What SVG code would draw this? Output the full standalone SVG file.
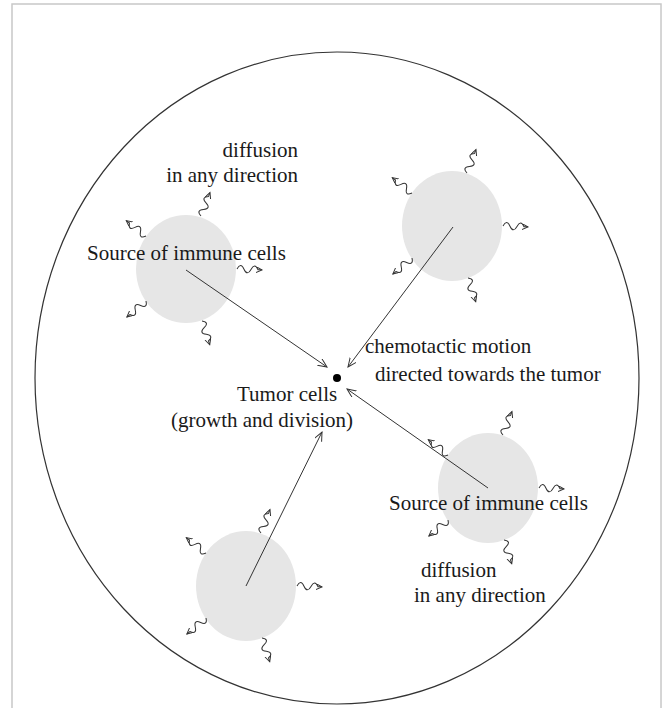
<svg xmlns="http://www.w3.org/2000/svg" width="664" height="708" viewBox="0 0 664 708">
<style>
.frame{fill:none;stroke:#c8c8c8;stroke-width:1.5}
.domain{fill:none;stroke:#333;stroke-width:1.2}
.src{fill:#e6e6e6}
.sq{fill:none;stroke:#333;stroke-width:1;marker-end:url(#sh)}
.arr{fill:none;stroke:#333;stroke-width:1;marker-end:url(#ah)}
text{font-family:"Liberation Serif","Times New Roman",serif;font-size:21px;fill:#1a1a1a}
</style>
<defs>
<marker id="ah" markerUnits="userSpaceOnUse" markerWidth="12" markerHeight="12" refX="9" refY="4" orient="auto"><path d="M0,0 L9,4 L0,8" fill="none" stroke="#333" stroke-width="1"/></marker>
<marker id="sh" markerUnits="userSpaceOnUse" markerWidth="10" markerHeight="10" refX="6" refY="3" orient="auto"><path d="M0,0 L6,3 L0,6" fill="none" stroke="#333" stroke-width="1"/></marker>
<path id="wave" class="sq" d="M0,0 q3.5,-7 7,0 t7,0 t7,0 l4,0"/>
<g id="waves">
<use href="#wave" transform="translate(15,-53) rotate(-69)"/>
<use href="#wave" transform="translate(-40,-33) rotate(-142)"/>
<use href="#wave" transform="translate(51,0) rotate(2)"/>
<use href="#wave" transform="translate(-40,32) rotate(140)"/>
<use href="#wave" transform="translate(16,52) rotate(72)"/>
</g>
</defs>
<rect class="frame" x="12" y="4" width="649" height="720"/>
<ellipse id="domain" class="domain" cx="337" cy="378" rx="302" ry="326"/>
<g id="source1">
<ellipse class="src" cx="186" cy="269" rx="50" ry="54"/>
<use href="#waves" transform="translate(186,269)"/>
</g>
<g id="source2">
<ellipse class="src" cx="452" cy="226" rx="50" ry="55"/>
<use href="#waves" transform="translate(452,226)"/>
</g>
<g id="source3">
<ellipse class="src" cx="488" cy="488" rx="50" ry="55"/>
<use href="#waves" transform="translate(488,488)"/>
</g>
<g id="source4">
<ellipse class="src" cx="246" cy="586" rx="50" ry="55"/>
<use href="#waves" transform="translate(246,586)"/>
</g>
<g id="tumor">
<circle cx="337" cy="378" r="4" fill="#000"/>
</g>
<g id="connectors">
<line class="arr" x1="186" y1="270" x2="327" y2="367"/>
<line class="arr" x1="453" y1="227" x2="348" y2="367"/>
<line class="arr" x1="488" y1="488" x2="347" y2="389"/>
<line class="arr" x1="246" y1="586" x2="322" y2="432"/>
</g>
<g id="labels">
<text x="298" y="157" text-anchor="end">diffusion</text>
<text x="298" y="182" text-anchor="end">in any direction</text>
<text x="87" y="260">Source of immune cells</text>
<text x="365" y="353">chemotactic motion</text>
<text x="375" y="381">directed towards the tumor</text>
<text x="237" y="401">Tumor cells</text>
<text x="171" y="427">(growth and division)</text>
<text x="389" y="510">Source of immune cells</text>
<text x="421" y="577">diffusion</text>
<text x="414" y="602">in any direction</text>
</g>
</svg>
